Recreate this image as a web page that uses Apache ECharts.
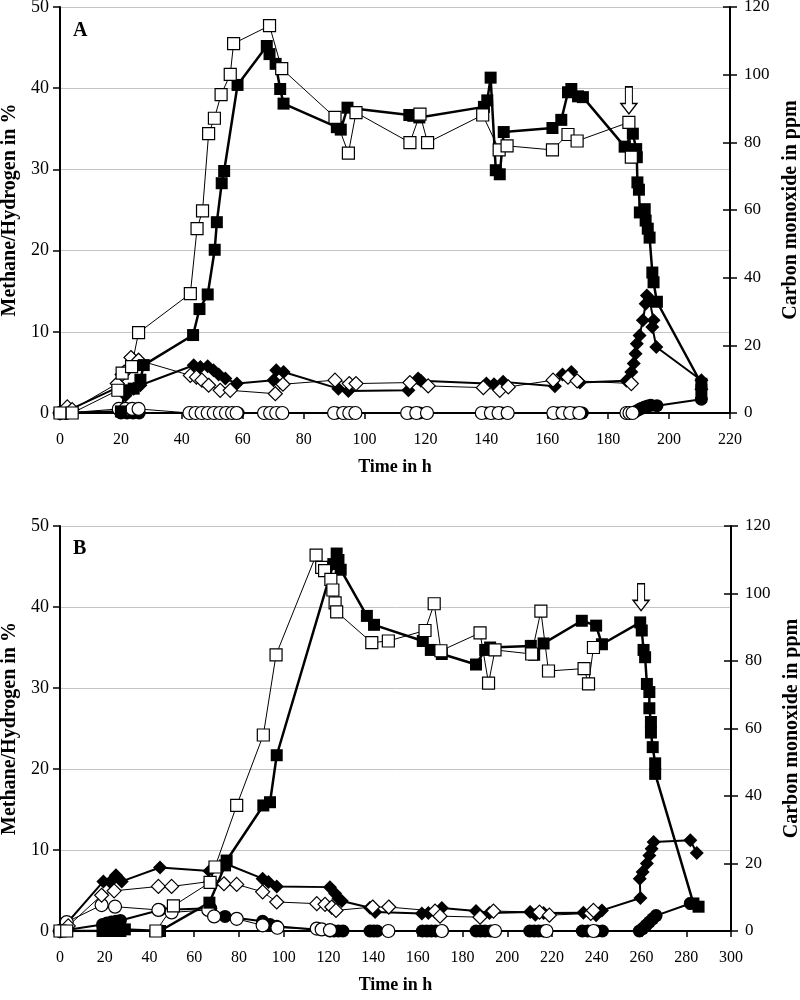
<!DOCTYPE html>
<html>
<head>
<meta charset="utf-8">
<script src="https://cdn.jsdelivr.net/npm/echarts@6/dist/echarts.min.js"></script>
<style>
html,body{margin:0;padding:0;background:#fff;}
#chart{width:800px;height:1000px;}
</style>
</head>
<body>
<div id="chart"></div>
<script>
// ---------- Panel A ----------
// methane (%), open = reactor 1, filled = reactor 2
const A_sqOpen = [[0,0],[4,0],[19,2.8],[20.4,4.9],[23.5,5.7],[25.8,9.9],[42.8,14.7],[45,22.7],[46.8,24.9],[48.8,34.4],[50.7,36.3],[52.9,39.2],[55.9,41.7],[57,45.5],[68.8,47.7],[72.8,42.4],[90.3,36.4],[94.7,32.0],[97.2,37.0],[114.9,33.3],[118.2,36.8],[120.7,33.3],[138.8,36.7],[144.2,32.4],[146.8,32.9],[161.7,32.4],[166.8,34.3],[169.8,33.5],[186.8,35.8],[187.6,31.5]];
const A_sqFill = [[0,0],[2,0],[20,0.2],[21.5,2.8],[24.2,3.0],[26.4,4.1],[27.5,5.9],[43.7,9.6],[45.8,12.8],[48.5,14.6],[50.8,20.1],[51.5,23.5],[53.1,28.3],[53.9,29.8],[58.3,40.4],[67.9,45.2],[68.8,44.2],[70.8,43.0],[72.3,39.9],[73.4,38.1],[90.9,35.2],[92.2,34.9],[94.4,37.6],[114.7,36.7],[116,36.6],[118,36.4],[139.2,37.7],[140.3,38.5],[141.4,41.3],[143.1,29.9],[144.4,29.4],[145.7,34.6],[161.7,35.1],[164.6,36.1],[166.8,39.5],[167.9,39.9],[170.1,39.0],[171.7,38.9],[185.4,32.8],[188.1,34.4],[189.2,32.5],[189.4,31.5],[189.6,28.4],[190.1,27.5],[190.4,24.7],[192,25.1],[192.3,23.7],[193,22.7],[193.6,21.6],[194.5,17.3],[194.9,16.1],[196,13.7],[210.6,3.6],[210.6,2.8]];
// carbon monoxide (ppm)
const A_dmOpen = [[0,0],[2.4,1.8],[4,1.0],[18.8,8.7],[20.4,11.4],[21.1,12.1],[23.3,16.4],[25.8,15.6],[42.8,11.1],[44.8,10.6],[46.6,9.7],[48.8,8.2],[52.6,6.7],[55.9,6.7],[70.7,5.7],[73.2,8.5],[90.3,9.7],[95,8.7],[97.2,8.7],[114.9,9.0],[120.9,8.0],[139,7.5],[144.4,6.7],[147.2,7.7],[161.9,9.7],[166.8,10.6],[169.8,9.5],[187.6,8.7]];
const A_dmFill = [[0,0],[2,0.5],[19.3,7.7],[21.5,5.2],[24.2,7.2],[26.4,8.2],[43.9,14.1],[46.1,13.6],[48.5,13.8],[50.4,12.6],[52.1,11.4],[54.3,10.2],[58.1,8.7],[70.1,9.7],[71,12.6],[73.4,12.1],[91.4,7.2],[94.7,6.5],[114.4,6.7],[117.6,10.2],[118.5,9.5],[140,8.7],[142.5,8.5],[145.5,9.2],[162.5,7.9],[165,11.4],[167.9,12.1],[170.7,9.0],[186,9.5],[187.6,12.1],[188.4,14.6],[189,17.5],[189.4,20.5],[190.3,22.9],[191.4,27.4],[192.3,32.3],[192.7,34.7],[193.6,33.3],[194.9,27.4],[194.5,25.4],[195.8,19.5],[210.6,9.7],[210.6,7.0]];
// hydrogen (%)
const A_ciOpen = [[0,0],[2,0],[19.3,0.5],[21.5,0.5],[23.7,0.5],[25.8,0.5],[42.5,0],[44.5,0],[46.5,0],[48.5,0],[50.5,0],[52.5,0],[54.5,0],[56.5,0],[58,0],[67,0],[69,0],[71,0],[73,0],[90,0],[93,0],[95,0],[97,0],[114,0],[117,0],[120.5,0],[138.5,0],[141.5,0],[144,0],[147,0],[162,0],[165,0],[167.5,0],[170.5,0],[186,0],[187,0],[188,0]];
const A_ciFill = [[0,0],[2,0],[20,0],[22,0],[24,0],[26,0],[43,0],[47,0],[51,0],[55,0],[58.5,0],[68,0],[72,0],[91,0],[94,0],[96,0],[115,0],[118,0],[140,0],[142.5,0],[145,0],[163.5,0],[166,0],[169,0],[171.5,0],[187,0],[189,0.2],[190,0.4],[191,0.6],[192,0.75],[193,0.85],[194,0.95],[196,0.9],[210.6,1.7]];
const A_arrow = [186.8, 38.5];

// ---------- Panel B ----------
const B_sqOpen = [[0,0],[3,0],[42.9,0],[50.7,3.1],[67.1,6.0],[69.3,7.9],[79,15.5],[90.9,24.2],[96.6,34.1],[114.5,46.4],[117,44.9],[118.3,44.5],[121.1,43.4],[122,42.1],[123,40.5],[123.7,39.4],[139.4,35.6],[146.8,35.8],[163.2,37.1],[167.3,40.4],[170.3,34.6],[187.8,36.8],[191.6,30.6],[194.5,34.7],[210.9,34.2],[215,39.5],[218.4,32.1],[234.3,32.4],[236.3,30.5],[238.5,35.0]];
const B_sqFill = [[0,0],[2,0],[19,0],[21,0.4],[23,0],[25,0.4],[27,0],[29,0.2],[44.7,0],[66.8,3.5],[73.8,8.1],[74.5,8.7],[90.9,15.5],[93.9,15.9],[96.9,21.7],[122.2,45.3],[123.7,46.6],[124.5,45.8],[125.5,44.6],[137.2,38.9],[140.4,37.8],[162.2,35.8],[165.8,34.7],[170.7,34.2],[186,32.9],[190.1,34.7],[192.3,35.0],[210.5,35.2],[212,34.1],[216.2,35.5],[233.3,38.3],[239.7,37.7],[242.3,35.4],[259.4,38.1],[260.1,37.1],[260.9,34.7],[261.6,33.8],[262.4,30.5],[263.5,29.5],[263.5,27.5],[264.2,25.8],[264.2,24.5],[265,22.7],[266.1,20.7],[266.1,19.4],[283.2,3.4],[285.5,3.0]];
const B_dmOpen = [[0,0],[3.7,1.5],[18.6,10.6],[24.2,11.9],[44,13.2],[49.9,13.2],[67.4,14.7],[73.3,14.0],[79,13.8],[90.6,11.6],[96.9,8.6],[114.8,8.1],[118.5,7.9],[121.5,7.1],[123.4,6.1],[139.8,7.1],[147,7.1],[167.7,5.9],[169.9,4.4],[187.8,4.1],[193.8,5.9],[214.4,5.6],[218.8,4.7],[237.3,5.2],[238.5,6.1]];
const B_dmFill = [[0,0],[19.4,14.7],[22.4,14.5],[25,16.5],[27.6,14.7],[44.7,18.8],[66.8,17.8],[73.8,20.0],[90.6,15.5],[93.2,14.5],[96.9,13.2],[120.7,13.0],[123,11.1],[124.5,9.6],[126,8.9],[138.6,6.9],[140.9,5.6],[161.8,5.2],[164.7,5.3],[170.7,6.8],[186,5.9],[192,5.3],[210.2,5.6],[212.5,4.8],[216.2,5.3],[234,5.4],[239.7,4.7],[242.3,6.1],[259.5,9.8],[259.2,15.5],[260.5,17.5],[262.4,20.0],[263.5,22.4],[264.5,24.4],[265.4,26.4],[281.8,26.9],[284.7,23.1]];
const B_ciOpen = [[0,0],[3,1.1],[18.6,3.2],[24.6,3.0],[44,2.6],[49.9,2.3],[66.3,2.6],[68.9,1.8],[79,1.5],[90.6,0.7],[97.2,0.4],[114.8,0.3],[117,0.2],[120.7,0.1],[146.8,0],[170.7,0],[194.5,0],[217.5,0],[238.5,0]];
const B_ciFill = [[0,0],[19,0.8],[21,1.0],[23,1.1],[25,1.2],[27,1.3],[44.7,2.6],[67.4,2.8],[73.8,1.8],[90.6,1.2],[93.9,0.8],[96.9,0.6],[120.7,0],[122.5,0],[124.5,0],[126.5,0],[138.6,0],[140.2,0],[141.8,0],[162,0],[164,0],[166,0],[168,0],[171,0],[186,0],[188,0],[190,0],[192.5,0],[210,0],[212,0],[214,0],[216,0],[233.5,0],[236,0],[240,0],[242.5,0],[259,0],[260.5,0.3],[262,0.7],[263.5,1.1],[265,1.5],[266.5,1.9],[281.8,3.4]];
const B_arrow = [259.8, 41.2];

// ---------- axis settings ----------
const A_xTicks = {min:0, max:220, interval:20};
const B_xTicks = {min:0, max:300, interval:20};
const leftTicks = {min:0, max:50, interval:10};
const rightTicks = {min:0, max:120, interval:20};

const FONT = '"Liberation Serif", "Times New Roman", serif';

function mkX(grid, t){
  return {
    gridIndex: grid, type:'value', min:t.min, max:t.max, interval:t.interval,
    name:'Time in h', nameLocation:'middle', nameGap:45,
    nameTextStyle:{fontFamily:FONT, fontWeight:'bold', fontSize:18, color:'#000'},
    axisLine:{show:true, onZero:false, lineStyle:{color:'#000', width:2}},
    axisTick:{show:true, length:6, lineStyle:{color:'#000', width:1.5}},
    axisLabel:{fontFamily:FONT, fontSize:16, color:'#000', margin:19},
    splitLine:{show:false}
  };
}
function mkYLeft(grid){
  return {
    gridIndex:grid, type:'value', position:'left', min:leftTicks.min, max:leftTicks.max, interval:leftTicks.interval,
    name:'Methane/Hydrogen in %', nameLocation:'middle', nameGap:40,
    nameTextStyle:{fontFamily:FONT, fontWeight:'bold', fontSize:20, color:'#000'},
    axisLine:{show:true, onZero:false, lineStyle:{color:'#000', width:2}},
    axisTick:{show:true, length:7, lineStyle:{color:'#000', width:1.5}},
    axisLabel:{fontFamily:FONT, fontSize:18, color:'#000', margin:11},
    splitLine:{show:true, lineStyle:{color:'#c4c4c4', width:1}}
  };
}
function mkYRight(grid){
  return {
    gridIndex:grid, type:'value', position:'right', min:rightTicks.min, max:rightTicks.max, interval:rightTicks.interval,
    name:'Carbon monoxide in ppm', nameLocation:'middle', nameGap:47,
    nameTextStyle:{fontFamily:FONT, fontWeight:'bold', fontSize:20, color:'#000'},
    axisLine:{show:true, onZero:false, lineStyle:{color:'#000', width:2}},
    axisTick:{show:true, length:7, lineStyle:{color:'#000', width:1.5}},
    axisLabel:{fontFamily:FONT, fontSize:17, color:'#000', margin:14},
    splitLine:{show:false}
  };
}
function mkYRightInner(grid){
  return {
    gridIndex:grid, type:'value', position:'right', min:rightTicks.min, max:rightTicks.max, interval:rightTicks.interval,
    axisLine:{show:false, onZero:false},
    axisTick:{show:true, inside:true, length:7, lineStyle:{color:'#000', width:1.5}},
    axisLabel:{show:false},
    splitLine:{show:false}
  };
}

function ser(data, xi, yi, symbol, filled, lineW, size, extra){
  const s = {
    type:'line', data:data, xAxisIndex:xi, yAxisIndex:yi,
    symbol:symbol, symbolSize:size, showAllSymbol:true, animation:false,
    lineStyle:{color:'#000', width:lineW},
    itemStyle:{color: filled ? '#000' : '#fff', borderColor:'#000', borderWidth: filled ? 0 : 1.2, opacity:1},
    emphasis:{disabled:true}
  };
  return Object.assign(s, extra || {});
}
function arrowMark(pt){
  return {markPoint:{
    symbol:'path://M4.5,0 L11.5,0 L11.5,16 L16,16 L8,26 L0,16 L4.5,16 Z',
    symbolSize:[16,27],
    data:[{coord:pt}],
    label:{show:false},
    itemStyle:{color:'#fff', borderColor:'#000', borderWidth:1.3},
    silent:true
  }};
}

const option = {
  backgroundColor:'#fff',
  animation:false,
  grid:[
    {left:60, top:7, width:670, height:406, containLabel:false, outerBoundsMode:'none'},
    {left:60, top:526, width:671, height:405, containLabel:false, outerBoundsMode:'none'}
  ],
  xAxis:[mkX(0, A_xTicks), mkX(1, B_xTicks)],
  yAxis:[mkYLeft(0), mkYRight(0), mkYRightInner(0), mkYLeft(1), mkYRight(1), mkYRightInner(1)],
  graphic:[
    {type:'text', left:73, top:21, style:{text:'A', font:'bold 20px "Liberation Serif"', fill:'#000'}},
    {type:'text', left:73, top:539, style:{text:'B', font:'bold 20px "Liberation Serif"', fill:'#000'}}
  ],
  series:[
    // Panel A
    ser(A_ciFill, 0, 0, 'circle', true, 2, 13),
    ser(A_ciOpen, 0, 0, 'circle', false, 1, 13),
    ser(A_dmFill, 0, 1, 'diamond', true, 2, 14),
    ser(A_dmOpen, 0, 1, 'diamond', false, 1, 14),
    ser(A_sqFill, 0, 0, 'rect', true, 2.5, 12),
    ser(A_sqOpen, 0, 0, 'rect', false, 1, 12, arrowMark(A_arrow)),
    // Panel B
    ser(B_ciFill, 1, 3, 'circle', true, 2, 13),
    ser(B_ciOpen, 1, 3, 'circle', false, 1, 13),
    ser(B_dmFill, 1, 4, 'diamond', true, 2, 14),
    ser(B_dmOpen, 1, 4, 'diamond', false, 1, 14),
    ser(B_sqFill, 1, 3, 'rect', true, 2.5, 12),
    ser(B_sqOpen, 1, 3, 'rect', false, 1, 12, arrowMark(B_arrow))
  ]
};

const chart = echarts.init(document.getElementById('chart'), null, {renderer:'canvas'});
chart.setOption(option);
</script>
</body>
</html>
